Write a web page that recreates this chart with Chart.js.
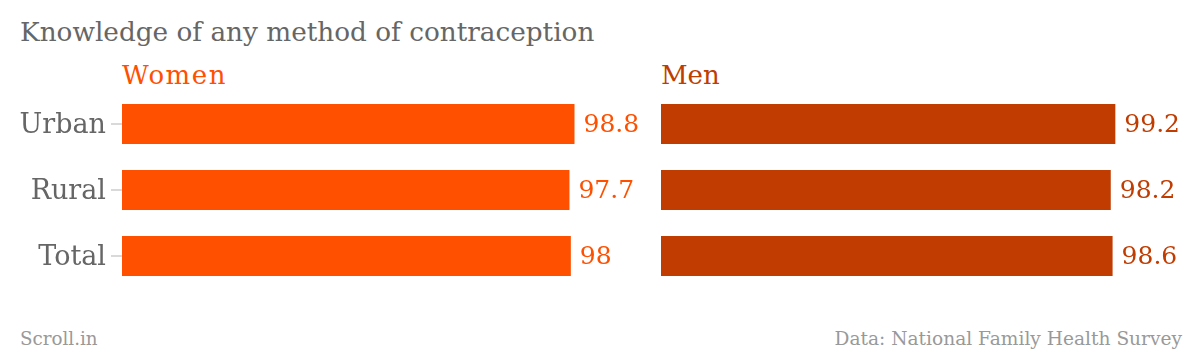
<!DOCTYPE html>
<html>
<head>
<meta charset="utf-8">
<script src="https://cdn.jsdelivr.net/npm/chart.js@4.4.1/dist/chart.umd.min.js"></script>
<style>
  html, body { margin: 0; padding: 0; background: #fff; }
  body { width: 1200px; height: 356px; position: relative; overflow: hidden; font-family: "DejaVu Serif", serif; }
  .txt { position: absolute; line-height: 1; white-space: nowrap; }
  #title { left: 20px; top: 19px; font-size: 26.3px; color: #666; }
  #womenLbl { left: 122px; top: 62px; font-size: 26px; letter-spacing: 1.5px; color: #ff5000; }
  #menLbl { left: 661px; top: 62px; font-size: 26px; color: #c03c00; }
  #src { left: 20px; top: 330px; font-size: 18.3px; color: #999; }
  #data { right: 18px; top: 330px; font-size: 18.6px; color: #999; }
  #wrapW { position: absolute; left: 0; top: 91px; width: 640px; height: 198px; }
  #wrapM { position: absolute; left: 640px; top: 91px; width: 560px; height: 198px; }
</style>
</head>
<body>
<div class="txt" id="title">Knowledge of any method of contraception</div>
<div class="txt" id="womenLbl">Women</div>
<div class="txt" id="menLbl">Men</div>
<div class="txt" id="src">Scroll.in</div>
<div class="txt" id="data">Data: National Family Health Survey</div>
<div id="wrapW"><canvas id="cW"></canvas></div>
<div id="wrapM"><canvas id="cM"></canvas></div>
<script>
const categories = ['Urban', 'Rural', 'Total'];
const women = [98.8, 97.7, 98];
const men = [99.2, 98.2, 98.6];
const womenColor = '#ff5000';
const menColor = '#c03c00';

const valueLabels = {
  id: 'valueLabels',
  afterDatasetsDraw(chart) {
    const ctx = chart.ctx;
    chart.data.datasets.forEach((ds, di) => {
      const meta = chart.getDatasetMeta(di);
      meta.data.forEach((bar, i) => {
        ctx.save();
        ctx.font = '25px "DejaVu Serif"';
        ctx.fillStyle = ds.backgroundColor;
        ctx.textAlign = 'left';
        ctx.textBaseline = 'middle';
        ctx.fillText(String(ds.data[i]), bar.x + 9, bar.y + 1);
        ctx.restore();
      });
    });
  }
};

function makeChart(id, values, color, showY, padL, padR) {
  const yScale = showY ? {
    display: true,
    border: { display: false },
    grid: { offset: false, drawOnChartArea: false, drawTicks: true, tickLength: 11, color: '#d9d9d9', lineWidth: 2 },
    ticks: { color: '#666', font: { family: 'DejaVu Serif', size: 27 }, padding: 5, labelOffset: 2 },
    afterFit(scale) { scale.width = 121; scale.paddingTop = 0; scale.paddingBottom = 0; }
  } : { display: false };
  return new Chart(document.getElementById(id), {
    type: 'bar',
    data: {
      labels: categories,
      datasets: [{ data: values, backgroundColor: color, borderWidth: 0, categoryPercentage: 1, barPercentage: 40 / 66 }]
    },
    options: {
      indexAxis: 'y',
      responsive: true,
      maintainAspectRatio: false,
      animation: false,
      layout: { padding: { left: padL, right: padR, top: 0, bottom: 0 } },
      plugins: { legend: { display: false }, tooltip: { enabled: false }, title: { display: false } },
      scales: {
        x: { min: 0, max: 100, display: false },
        y: yScale
      }
    },
    plugins: [valueLabels]
  });
}

makeChart('cW', women, womenColor, true, 1, 60);
makeChart('cM', men, menColor, false, 21, 81);
</script>
</body>
</html>
